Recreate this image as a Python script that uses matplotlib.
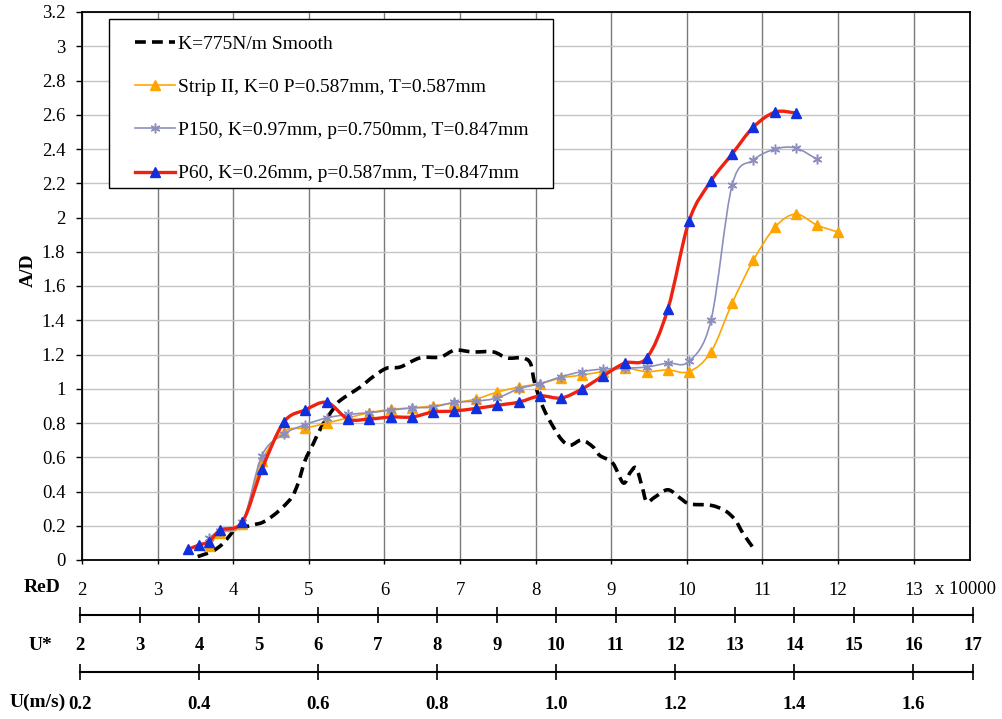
import numpy as np
import matplotlib
matplotlib.use("Agg")
import matplotlib.pyplot as plt
from matplotlib.path import Path
from matplotlib.patches import PathPatch, Rectangle
from matplotlib.lines import Line2D

plt.rcParams['font.family'] = ['Liberation Serif', 'DejaVu Serif']
plt.rcParams['font.size'] = 13.5

# ReD (x 10000) vs A/D
smooth_red = [3.53, 3.72, 3.85, 3.93, 4.02, 4.13, 4.26, 4.39, 4.53, 4.66, 4.78, 4.86, 4.95,
              5.06, 5.17, 5.32, 5.41, 5.68, 5.85, 6.03, 6.21, 6.47, 6.74, 6.93, 7.17, 7.44,
              7.62, 7.82, 7.93, 7.99, 8.10, 8.23, 8.35, 8.46, 8.61, 8.76, 8.85, 9.02, 9.16,
              9.25, 9.33, 9.41, 9.47, 9.58, 9.75, 9.91, 10.04, 10.31, 10.50, 10.64, 10.74, 10.88]
smooth_ad = [0.02, 0.05, 0.09, 0.13, 0.175, 0.19, 0.205, 0.22, 0.26, 0.31, 0.37, 0.45, 0.58,
             0.68, 0.78, 0.88, 0.93, 1.01, 1.07, 1.12, 1.127, 1.18, 1.185, 1.225, 1.215, 1.215,
             1.18, 1.18, 1.15, 1.03, 0.89, 0.78, 0.70, 0.67, 0.70, 0.66, 0.61, 0.566, 0.45,
             0.51, 0.537, 0.426, 0.34, 0.368, 0.41, 0.362, 0.327, 0.32, 0.29, 0.234, 0.158, 0.07]

strip_red = [3.68, 3.83, 4.12, 4.38, 4.67, 4.95, 5.24, 5.52, 5.80, 6.09, 6.37, 6.64, 6.92,
             7.21, 7.49, 7.78, 8.06, 8.34, 8.61, 8.89, 9.18, 9.47, 9.75, 10.03, 10.32, 10.60,
             10.88, 11.17, 11.44, 11.72, 12.00]
strip_ad = [0.08, 0.16, 0.21, 0.58, 0.75, 0.77, 0.80, 0.83, 0.86, 0.88, 0.888, 0.90, 0.917,
            0.94, 0.98, 1.01, 1.03, 1.063, 1.08, 1.10, 1.12, 1.10, 1.11, 1.10, 1.215, 1.50,
            1.75, 1.945, 2.02, 1.956, 1.915]

p150_red = [3.68, 3.83, 4.12, 4.38, 4.67, 4.95, 5.24, 5.52, 5.80, 6.09, 6.37, 6.64, 6.92,
            7.21, 7.49, 7.78, 8.06, 8.34, 8.61, 8.89, 9.18, 9.47, 9.75, 10.03, 10.32, 10.60,
            10.88, 11.17, 11.44, 11.72]
p150_ad = [0.13, 0.17, 0.22, 0.61, 0.735, 0.79, 0.83, 0.85, 0.86, 0.875, 0.888, 0.893, 0.92,
           0.928, 0.946, 1.0, 1.03, 1.07, 1.10, 1.115, 1.12, 1.127, 1.15, 1.16, 1.40, 2.19,
           2.336, 2.40, 2.406, 2.34]

p60_red = [3.40, 3.55, 3.68, 3.83, 4.12, 4.38, 4.67, 4.95, 5.24, 5.52, 5.80, 6.09, 6.37,
           6.64, 6.92, 7.21, 7.49, 7.78, 8.06, 8.34, 8.61, 8.89, 9.18, 9.47, 9.75, 10.03,
           10.32, 10.60, 10.88, 11.17, 11.44]
p60_ad = [0.062, 0.088, 0.108, 0.175, 0.222, 0.53, 0.805, 0.876, 0.92, 0.823, 0.823, 0.835,
          0.835, 0.864, 0.87, 0.885, 0.903, 0.922, 0.958, 0.946, 0.998, 1.074, 1.15, 1.18,
          1.466, 1.98, 2.213, 2.371, 2.528, 2.616, 2.61]

labels = ["K=775N/m Smooth",
          "Strip II, K=0 P=0.587mm, T=0.587mm",
          "P150, K=0.97mm, p=0.750mm, T=0.847mm",
          "P60, K=0.26mm, p=0.587mm, T=0.847mm"]

ustar_ticks = list(range(2, 18))
u_ticks = [0.2, 0.4, 0.6, 0.8, 1.0, 1.2, 1.4, 1.6]

ORANGE = "#FFA500"
LAVENDER = "#8C8FBE"
RED = "#EE2210"
BLUE = "#1030E0"
DASH = (0, (3.0, 1.7))


def smooth_path(x, y):
    # Excel-like smoothed line: Catmull-Rom segments as cubic Beziers
    pts = np.column_stack([x, y])
    n = len(pts)
    verts = [pts[0]]
    codes = [Path.MOVETO]
    for i in range(n - 1):
        p0 = pts[max(i - 1, 0)]
        p1 = pts[i]
        p2 = pts[i + 1]
        p3 = pts[min(i + 2, n - 1)]
        verts += [p1 + (p2 - p0) / 6, p2 - (p3 - p1) / 6, p2]
        codes += [Path.CURVE4] * 3
    return Path(verts, codes)


W, H = 1003, 719
fig = plt.figure(figsize=(W / 100, H / 100), dpi=100)
ax = fig.add_axes([82 / W, 1 - 560 / H, 888 / W, 548 / H])

ax.set_xlim(2, 2 + 888 / 75.6)
ax.set_ylim(0, 3.2)

yt = np.round(np.arange(0, 3.21, 0.2), 1)
ax.set_yticks(yt)
ax.set_yticklabels(["%g" % v for v in yt])
ax.set_xticks(range(2, 14))
ax.tick_params(axis='y', direction='out', length=4, width=1, pad=8, labelsize=13.5)
ax.tick_params(axis='x', direction='out', length=3, width=1, pad=13, labelsize=13.5)

ax.grid(axis='y', color='#C4C4C4', lw=1.0)
ax.grid(axis='x', color='#7A7A7A', lw=1.0)
ax.set_axisbelow(True)
for s in ax.spines.values():
    s.set_linewidth(1.3)
    s.set_color('black')

# series
ax.add_patch(PathPatch(smooth_path(smooth_red, smooth_ad), fill=False, edgecolor='black',
                       lw=2.6, linestyle=DASH, zorder=3))

ax.add_patch(PathPatch(smooth_path(strip_red, strip_ad), fill=False, edgecolor=ORANGE,
                       lw=1.2, zorder=4))
ax.plot(strip_red, strip_ad, ls='none', marker='^', ms=7, color=ORANGE, mec=ORANGE, zorder=4)

ax.add_patch(PathPatch(smooth_path(p150_red, p150_ad), fill=False, edgecolor=LAVENDER,
                       lw=1.2, zorder=5))
ax.plot(p150_red, p150_ad, ls='none', marker=(6, 2, 0), ms=7, mew=1.1, color=LAVENDER, zorder=5)

ax.add_patch(PathPatch(smooth_path(p60_red, p60_ad), fill=False, edgecolor=RED,
                       lw=2.4, zorder=6))
ax.plot(p60_red, p60_ad, ls='none', marker='^', ms=7, color=BLUE, mec=BLUE, zorder=7)

fig.text(28 / W, 1 - 270 / H, "A/D", rotation=90, ha='center', va='center',
         fontsize=14, fontweight='bold')

# legend: white box plus frameless legend on top
ax.add_patch(Rectangle((109 / W, 1 - 188 / H), 444 / W, 169 / H, transform=fig.transFigure,
                       facecolor='white', edgecolor='black', lw=1.0, zorder=9, clip_on=False))
handles = [
    Line2D([], [], color='black', lw=2.6, linestyle=DASH),
    Line2D([], [], color=ORANGE, lw=1.2, marker='^', ms=7),
    Line2D([], [], color=LAVENDER, lw=1.2, marker=(6, 2, 0), ms=7, mew=1.1),
    Line2D([], [], color=RED, lw=2.4, marker='^', ms=7, mfc=BLUE, mec=BLUE),
]
leg = ax.legend(handles, labels, loc='upper left',
                bbox_to_anchor=(135 / W, 1 - 35 / H), bbox_transform=fig.transFigure,
                borderaxespad=0, borderpad=0, fontsize=14, frameon=False,
                labelspacing=1.32, handlelength=2.06, handletextpad=0.15)
leg.set_zorder(10)

# ReD axis caption
fig.text(42 / W, 1 - 588 / H, "ReD", ha='center', va='center', fontsize=14, fontweight='bold')
fig.text(935 / W, 1 - 590 / H, "x 10000", ha='left', va='center', fontsize=13.5)

# U* scale
ax_us = fig.add_axes([80 / W, 1 - 615 / H, 893 / W, 0.0001])
ax_us.set_xlim(2, 17)
ax_us.set_xticks(ustar_ticks)
ax_us.set_xticklabels([str(v) for v in ustar_ticks], fontweight='bold')
ax_us.tick_params(axis='x', direction='inout', length=11, width=1.2, pad=10, labelsize=13.5)
ax_us.set_yticks([])
for k in ('top', 'left', 'right'):
    ax_us.spines[k].set_visible(False)
ax_us.spines['bottom'].set_linewidth(1.5)
ax_us.patch.set_visible(False)
fig.text(40 / W, 1 - 645 / H, "U*", ha='center', va='center', fontsize=14, fontweight='bold')

# U (m/s) scale
ax_u = fig.add_axes([80 / W, 1 - 672 / H, 893 / W, 0.0001])
ax_u.set_xlim(0.2, 1.7)
ax_u.set_xticks(u_ticks + [1.7])
ax_u.set_xticklabels(["%.1f" % v for v in u_ticks] + [""], fontweight='bold')
ax_u.tick_params(axis='x', direction='inout', length=11, width=1.2, pad=12, labelsize=13.5)
ax_u.set_yticks([])
for k in ('top', 'left', 'right'):
    ax_u.spines[k].set_visible(False)
ax_u.spines['bottom'].set_linewidth(1.5)
ax_u.patch.set_visible(False)
fig.text(38 / W, 1 - 702 / H, "U(m/s)", ha='center', va='center', fontsize=14, fontweight='bold')

fig.savefig("out.png", dpi=100)
